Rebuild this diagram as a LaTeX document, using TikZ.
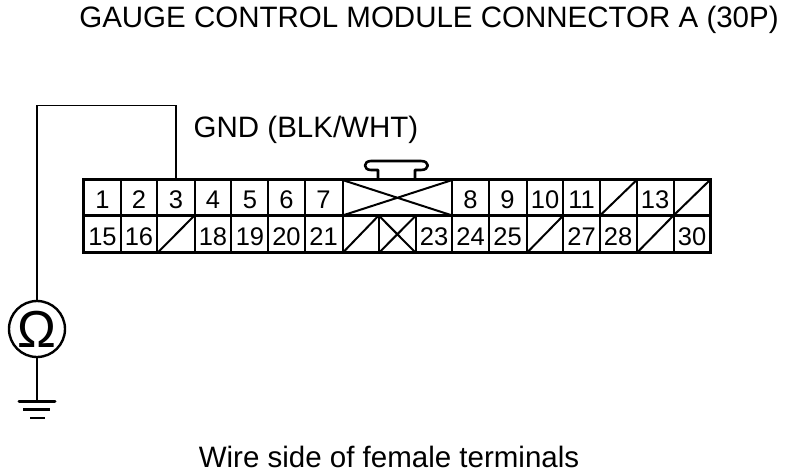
\documentclass[tikz,border=0pt]{standalone}
\usepackage{fontspec}
\setmainfont{Liberation Sans}
\begin{document}
\begin{tikzpicture}[x=1pt,y=-1pt,
  frame/.style={line width=3pt,draw=black},
  thin line/.style={line width=2pt,draw=black},
  wire/.style={line width=1.6pt,draw=black},
  pin/.style={font=\fontsize{25.5}{25}\selectfont,inner sep=0pt,anchor=center},
  label/.style={inner sep=0pt,anchor=center},
  meter/.style={circle,draw=black,line width=2.4pt,minimum size=56pt,inner sep=0pt}]
\useasboundingbox (0,0) rectangle (800,474);
\fill[white] (0,0) rectangle (800,474);
\node[label,font=\fontsize{29.5}{30}\selectfont] (title) at (429,20) {GAUGE CONTROL MODULE CONNECTOR A (30P)};
\node[label,font=\fontsize{29.5}{30}\selectfont] (gnd) at (306,129.5) {GND (BLK/WHT)};
\node[label,font=\fontsize{29.5}{30}\selectfont] (cap) at (389,457) {Wire side of female terminals};
% latch
\draw[line width=2.6pt,line join=round,fill=white] (378,179) -- (378,170) -- (371,170) .. controls (363,170) and (363,161) .. (371,161) -- (421,161) .. controls (430,161) and (430,170) .. (421,170) -- (415,170) -- (415,179);
% connector body
\node[frame,rectangle,minimum width=626.5pt,minimum height=73.5pt,inner sep=0pt] (conn) at (397,216) {};
\coordinate (pin3top) at (176,179.5);
\draw[frame] (84,215.5) -- (710,215.5);
\foreach \x in {120.7,157.3,194.5,231.3,268,305,342.5,452.3,489.3,526.7,563.3,600,636.7,673.5}
  \draw[thin line] (\x,180) -- (\x,253);
\draw[thin line] (378.7,215.5) -- (378.7,253);
\draw[thin line] (416,215.5) -- (416,253);
% crossed cell
\draw[thin line] (342.5,180) -- (452.3,215.5) (342.5,215.5) -- (452.3,180);
% blanked cells
\draw[thin line] (157.3,253) -- (194.5,215.5);
\draw[thin line] (342.5,253) -- (378.7,215.5);
\draw[thin line] (378.7,215.5) -- (416,253) (378.7,253) -- (416,215.5);
\draw[thin line] (526.7,253) -- (563.3,215.5);
\draw[thin line] (636.7,253) -- (673.5,215.5);
\draw[thin line] (600,215.5) -- (636.7,180);
\draw[thin line] (673.5,215.5) -- (710,180);
% pin numbers
\foreach \t/\x in {1/102.5,2/139,3/176,4/213,5/250,6/286.5,7/323.5,8/470.5,9/507.5,10/545,11/581.5,13/655}
  \node[pin] (a\t) at (\x,199.5) {\t};
\foreach \t/\x in {15/102.5,16/139,18/213,19/250,20/286.5,21/323.5,23/434,24/470.5,25/507.5,27/581.5,28/618,30/692}
  \node[pin] (b\t) at (\x,236.5) {\t};
% meter
\node[meter] (ohm) at (37,329) {\fontsize{52}{52}\selectfont Ω};
\coordinate (gndtop) at (37,401.5);
\coordinate (corner1) at (37,105.5);
\coordinate (corner2) at (176,105.5);
\draw[wire] (pin3top) -- (corner2) -- (corner1) -- (ohm.north);
\draw[wire] (ohm.south) -- (gndtop);
\draw[line width=3pt,line cap=round] (19,401.5) -- (55,401.5);
\draw[line width=2.8pt] (23,409.8) -- (50,409.8);
\draw[line width=2.8pt] (30,418) -- (45,418);
\end{tikzpicture}
\end{document}
